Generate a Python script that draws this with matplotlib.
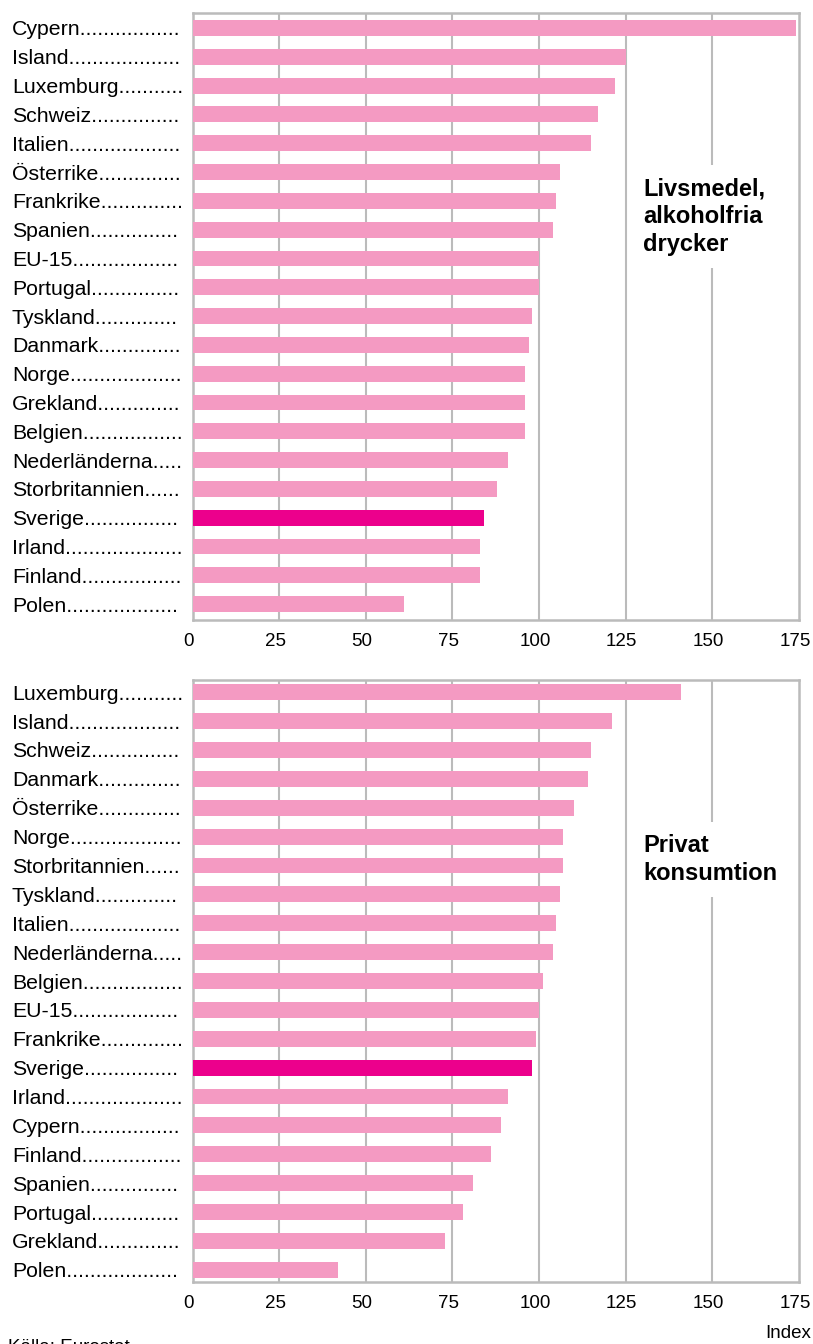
import matplotlib
matplotlib.use("Agg")
import matplotlib.pyplot as plt
import matplotlib.transforms as mtransforms
from matplotlib.font_manager import FontProperties
from matplotlib.textpath import TextToPath

plt.rcParams['font.family'] = ['Liberation Sans', 'DejaVu Sans']

# ------------------------------------------------------------
# DATA (index, EU-15 = 100)
# ------------------------------------------------------------

food_countries = ["Cypern", "Island", "Luxemburg", "Schweiz", "Italien", "Österrike",
                  "Frankrike", "Spanien", "EU-15", "Portugal", "Tyskland", "Danmark",
                  "Norge", "Grekland", "Belgien", "Nederländerna", "Storbritannien",
                  "Sverige", "Irland", "Finland", "Polen"]
food_values = [174, 125, 122, 117, 115, 106, 105, 104, 100, 100, 98, 97,
               96, 96, 96, 91, 88, 84, 83, 83, 61]

cons_countries = ["Luxemburg", "Island", "Schweiz", "Danmark", "Österrike", "Norge",
                  "Storbritannien", "Tyskland", "Italien", "Nederländerna", "Belgien",
                  "EU-15", "Frankrike", "Sverige", "Irland", "Cypern", "Finland",
                  "Spanien", "Portugal", "Grekland", "Polen"]
cons_values = [141, 121, 115, 114, 110, 107, 107, 106, 105, 104, 101,
               100, 99, 98, 91, 89, 86, 81, 78, 73, 42]

x_ticks = [0, 25, 50, 75, 100, 125, 150, 175]

PINK = "#F49AC2"
HIGHLIGHT = "#EC008C"
GRID = "#BBBBBB"
LABEL_SIZE = 15.3
LABEL_WIDTH_PX = 172   # leader dots run out to about here

_t2p = TextToPath()
_prop = FontProperties(family='Liberation Sans', size=LABEL_SIZE)


def dotted(name):
    """Append leader dots until the label fills the label column."""
    s = name
    while True:
        w, _, _ = _t2p.get_text_width_height_descent(s + ".", _prop, ismath=False)
        if w * 100 / 72 > LABEL_WIDTH_PX:
            return s
        s += "."


def draw_panel(ax, countries, values, title, title_y, ylim):
    colors = [HIGHLIGHT if c == "Sverige" else PINK for c in countries]
    ypos = list(range(len(countries)))
    ax.barh(ypos, values, height=0.55, color=colors, zorder=3)

    ax.set_xlim(0, 175)
    ax.set_ylim(*ylim)
    ax.set_xticks(x_ticks)
    ax.set_xticklabels([str(t) for t in x_ticks], fontsize=13.5)
    ax.set_yticks(ypos)
    ax.set_yticklabels([dotted(c) for c in countries], fontsize=LABEL_SIZE, ha='left')
    ax.tick_params(axis='y', length=0, pad=130)
    ax.tick_params(axis='x', length=0, pad=9)

    # tick numbers sit a little left of their gridlines in the original
    shift = mtransforms.ScaledTranslation(-4 / 100, 0, ax.figure.dpi_scale_trans)
    for lbl in ax.get_xticklabels():
        lbl.set_transform(lbl.get_transform() + shift)

    for t in x_ticks[1:-1]:
        ax.axvline(t, color=GRID, linewidth=1.5, zorder=1)
    for s in ax.spines.values():
        s.set_color(GRID)
        s.set_linewidth(1.8)

    ax.text(130, title_y, title, fontsize=17, fontweight='bold', va='center', ha='left',
            linespacing=1.25, zorder=4,
            bbox=dict(facecolor='white', edgecolor='none', pad=9))


fig = plt.figure(figsize=(8.13, 13.44), dpi=100)

ax1 = fig.add_axes([192.5 / 813, 1 - 620 / 1344, 606.5 / 813, 607 / 1344])
draw_panel(ax1, food_countries, food_values, "Livsmedel,\nalkoholfria\ndrycker", 6.55,
           (20.55, -0.52))

ax2 = fig.add_axes([192.5 / 813, 1 - 1282 / 1344, 606.5 / 813, 602 / 1344])
draw_panel(ax2, cons_countries, cons_values, "Privat\nkonsumtion", 5.8,
           (20.42, -0.42))

fig.text(811 / 813, 1 - 1333 / 1344, "Index", fontsize=13.5, ha='right', va='center')
fig.text(8 / 813, 1 - 1348 / 1344, "Källa: Eurostat", fontsize=13.5, ha='left', va='center')

fig.savefig("out.png", dpi=100)
